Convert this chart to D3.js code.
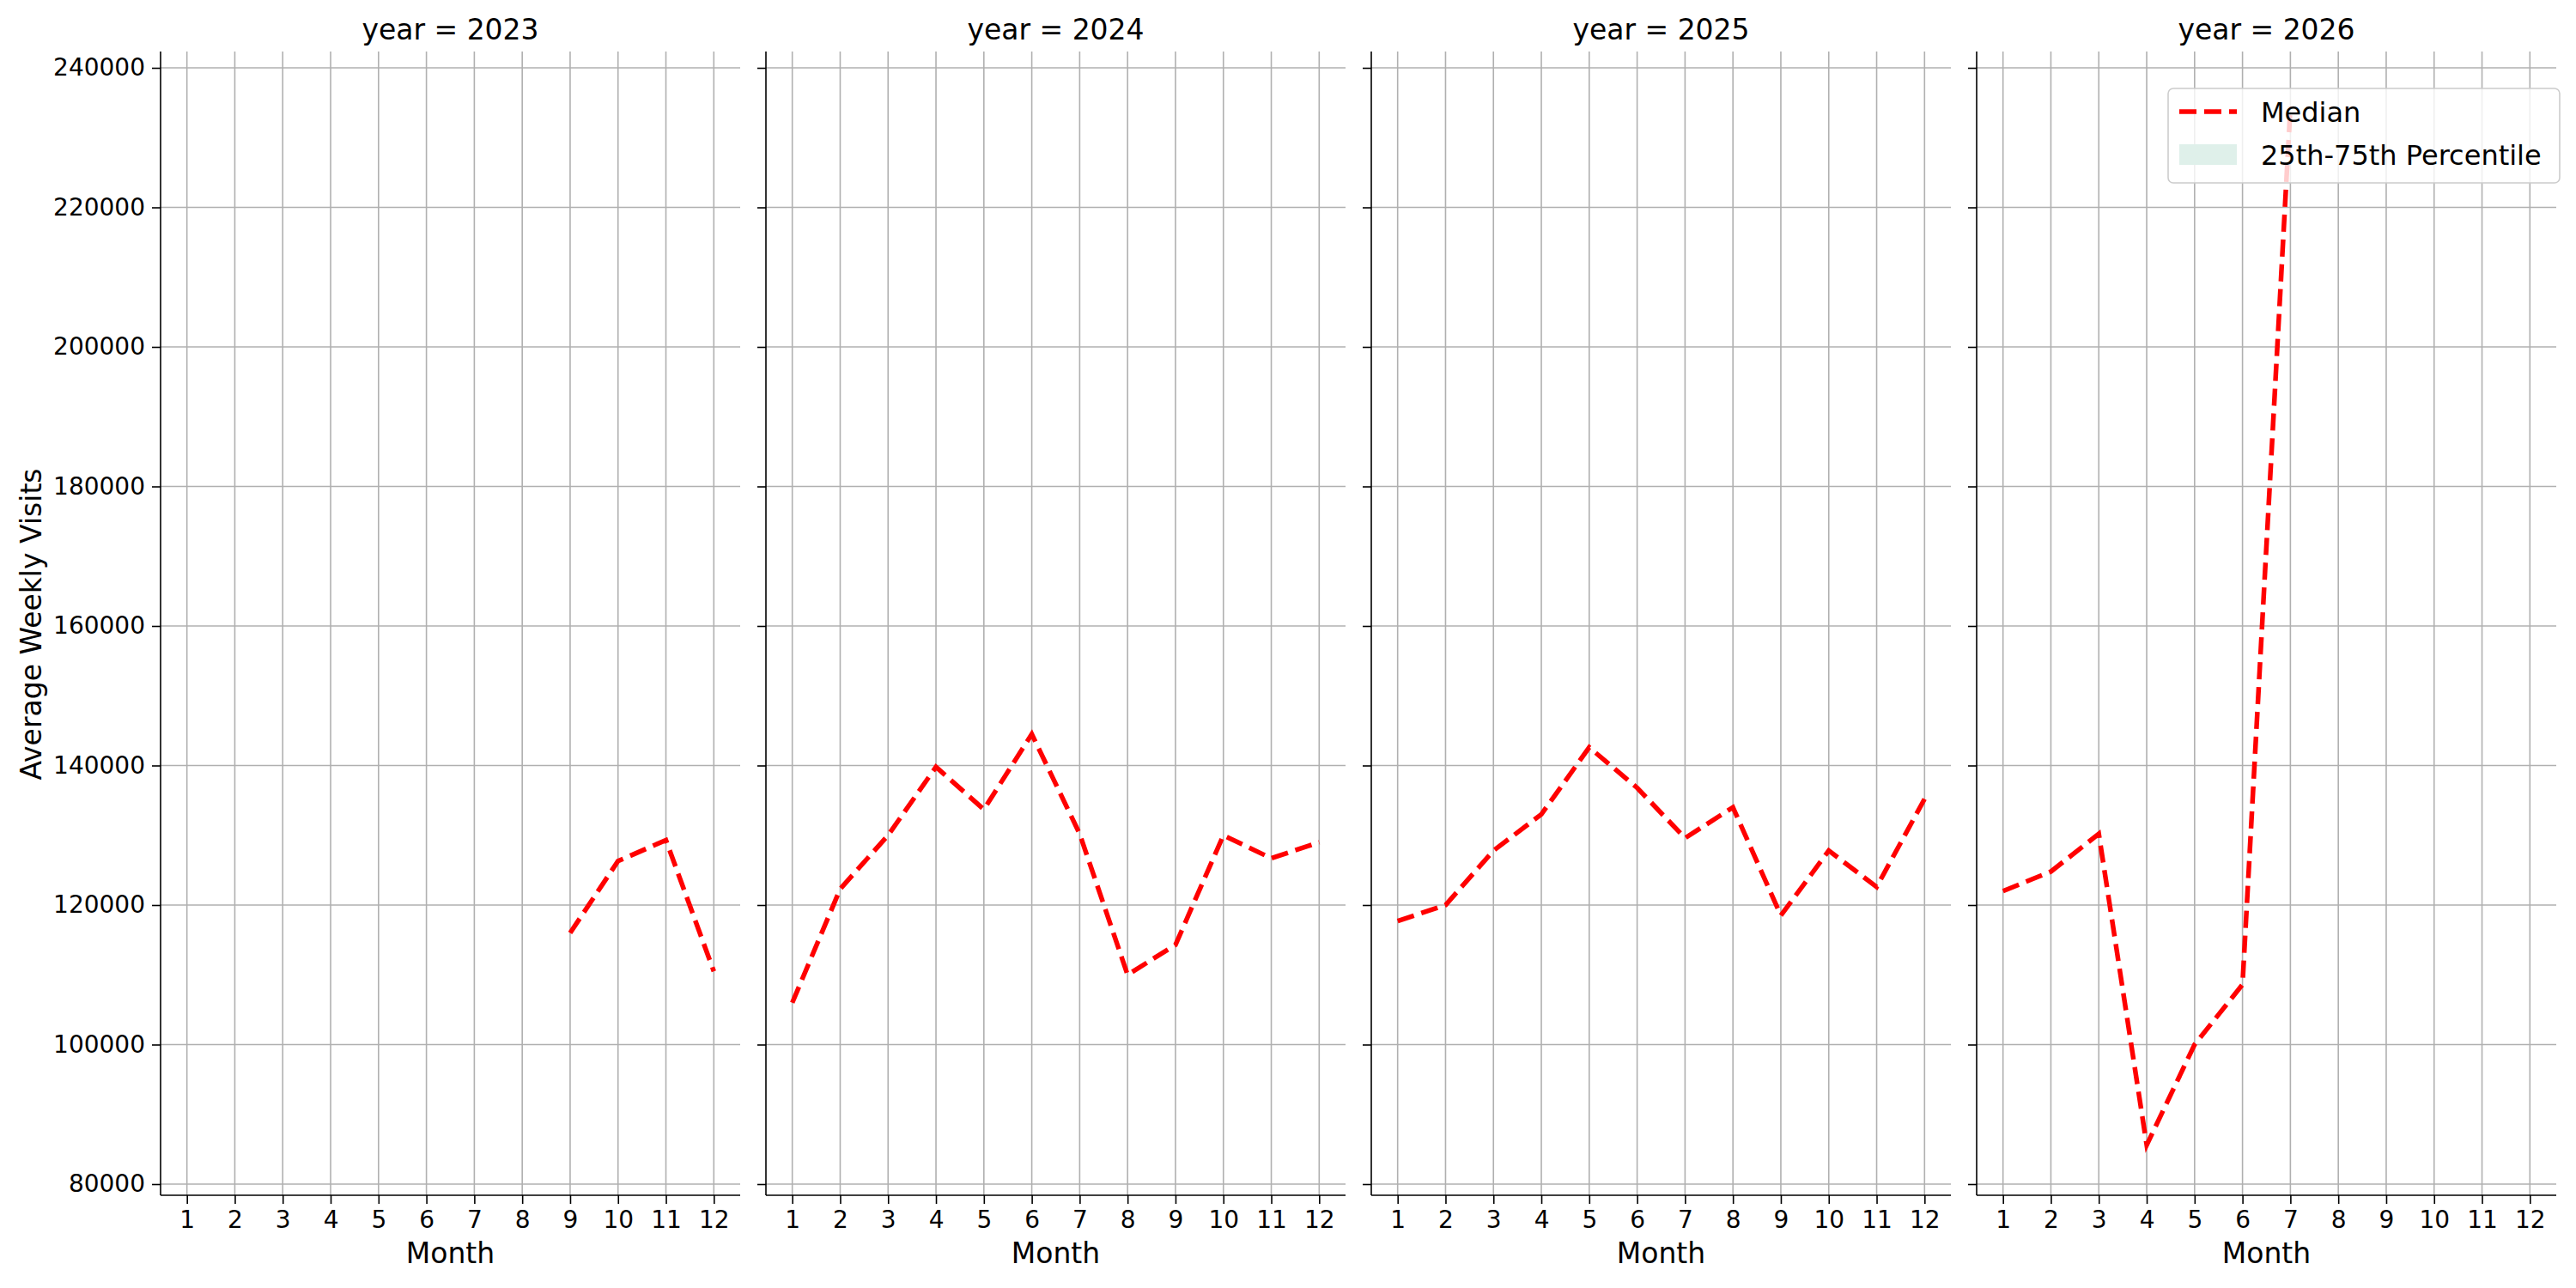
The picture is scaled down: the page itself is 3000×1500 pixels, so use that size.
<!DOCTYPE html>
<html><head><meta charset="utf-8">
<script src="https://cdn.jsdelivr.net/npm/d3@7"></script>
<style>body{margin:0;background:#fff}svg{display:block}text{font-family:"DejaVu Sans",sans-serif;fill:#000}</style>
</head><body>
<script>
const years = [2023, 2024, 2025, 2026];
const months = [1,2,3,4,5,6,7,8,9,10,11,12];
const yTicks = [80000,100000,120000,140000,160000,180000,200000,220000,240000];
const median2023 = [null,null,null,null,null,null,null,null,116000,126300,129300,110500];
const median2024 = [106000,122300,130000,139800,133700,144500,130200,110000,114300,130000,126700,129000];
const median2025 = [117700,120000,127800,133000,142600,136800,129600,134000,118500,127800,122600,135200];
const median2026 = [122000,124800,130200,85600,100000,108600,234400,null,null,null,null,null];
const medians = [median2023, median2024, median2025, median2026];

(function(){
const W=3000,H=1500;
const svg=d3.select("body").append("svg").attr("width",W).attr("height",H);
const panelLeft=[187,892,1597,2302], pw=675, yTop=60, yBot=1392;
const y=d3.scaleLinear().domain([78400,242340]).range([yBot,yTop]);

years.forEach((yr,i)=>{
  const x0=panelLeft[i];
  const x=d3.scaleLinear().domain([0.45,12.55]).range([x0,x0+pw]);
  const g=svg.append("g");
  g.selectAll(".vg").data(months).enter().append("line")
    .attr("x1",d=>x(d)).attr("x2",d=>x(d)).attr("y1",yTop).attr("y2",yBot)
    .attr("stroke","#b0b0b0").attr("stroke-width",1.6);
  g.selectAll(".hg").data(yTicks).enter().append("line")
    .attr("x1",x0).attr("x2",x0+pw).attr("y1",d=>y(d)).attr("y2",d=>y(d))
    .attr("stroke","#b0b0b0").attr("stroke-width",1.6);
  const xa=g.append("g").attr("transform",`translate(0,${yBot})`)
    .call(d3.axisBottom(x).tickValues(months).tickSize(10).tickPadding(8));
  const ya=g.append("g").attr("transform",`translate(${x0},0)`)
    .call(d3.axisLeft(y).tickValues(yTicks).tickSize(10).tickPadding(8).tickFormat(i===0?d3.format("d"):()=>""));
  xa.select(".domain").attr("d",`M${x0},0H${x0+pw}`);
  ya.select(".domain").attr("d",`M0,${yTop}V${yBot}`);
  [xa,ya].forEach(a=>{
    a.select(".domain").attr("stroke","#000").attr("stroke-width",1.6);
    a.selectAll(".tick line").attr("stroke","#000").attr("stroke-width",1.6);
    a.selectAll(".tick text").attr("font-size",28).attr("font-family","DejaVu Sans").attr("fill","#000");
  });
  const line=d3.line().defined(d=>d.v!=null).x(d=>x(d.m)).y(d=>y(d.v));
  const data=months.map((m,k)=>({m,v:medians[i][k]}));
  g.append("path").datum(data).attr("d",line).attr("fill","none")
    .attr("stroke","#ff0000").attr("stroke-width",5.5).attr("stroke-dasharray","20,9");
  g.append("text").attr("x",x0+pw/2).attr("y",46).attr("text-anchor","middle").attr("font-size",33).text(`year = ${yr}`);
  g.append("text").attr("x",x0+pw/2).attr("y",1471).attr("text-anchor","middle").attr("font-size",33).text("Month");
});
svg.append("text").attr("transform","translate(48,727) rotate(-90)").attr("text-anchor","middle").attr("font-size",33).text("Average Weekly Visits");

const lg=svg.append("g");
lg.append("rect").attr("x",2525).attr("y",103).attr("width",456).attr("height",110).attr("rx",6)
  .attr("fill","rgba(255,255,255,0.8)").attr("stroke","#cccccc").attr("stroke-width",1.6);
lg.append("line").attr("x1",2538).attr("x2",2605).attr("y1",130).attr("y2",130)
  .attr("stroke","#ff0000").attr("stroke-width",5.5).attr("stroke-dasharray","20,9");
lg.append("rect").attr("x",2538).attr("y",168).attr("width",67).attr("height",24).attr("fill","#dff0ea");
lg.append("text").attr("x",2633).attr("y",142).attr("font-size",32).text("Median");
lg.append("text").attr("x",2633).attr("y",192).attr("font-size",32).text("25th-75th Percentile");
})();
</script>
</body></html>
